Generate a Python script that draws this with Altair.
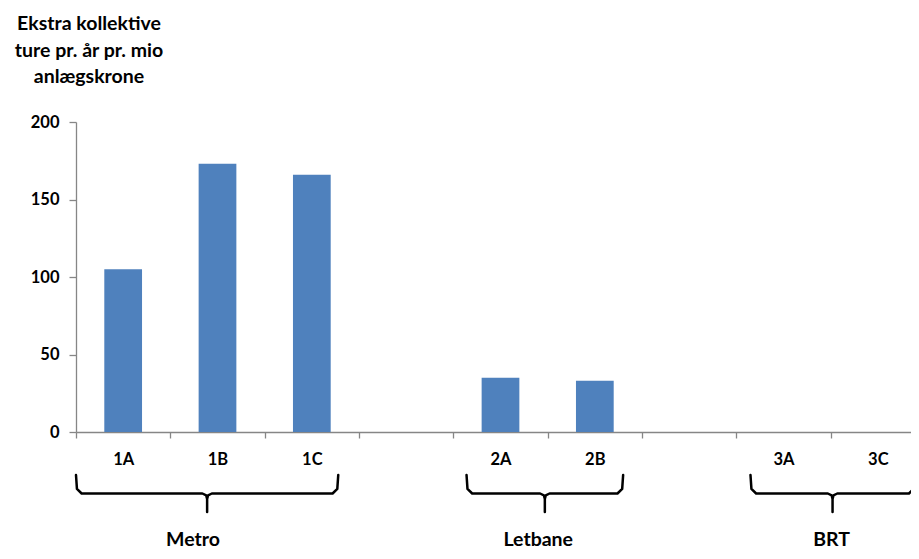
import altair as alt
import pandas as pd

# ---- data ----
categories = ["1A", "1B", "1C", "gap1", "2A", "2B", "gap2", "3A", "3C"]
values = [105, 173, 166, None, 35, 33, None, 0, 0]

title_lines = ["Ekstra kollektive", "ture pr. år pr. mio", "anlægskrone"]

groups = ["Metro", "Letbane", "BRT"]
brace_start = [0.0, 4.14, 7.15]   # in category-band units
brace_end = [2.78, 5.80, 8.89]
label_x = [1.24, 4.90, 8.01]

BLUE = "#4F81BD"
GREY = "#868686"
FONT = "Lato"

bars_df = pd.DataFrame({"cat": categories, "value": values})

# brace polylines built from the brace extents
rows = []
for g, s, e in zip(groups, brace_start, brace_end):
    c = (s + e) / 2
    pts = [(s, 0), (s + 0.01, 0.75), (s + 0.06, 1.0), (c - 0.05, 1.0), (c - 0.01, 1.1),
           (c, 1.3), (c, 2.0), (c, 1.3), (c + 0.01, 1.1), (c + 0.05, 1.0),
           (e - 0.06, 1.0), (e - 0.01, 0.75), (e, 0)]
    for i, (x, d) in enumerate(pts):
        rows.append({"group": g, "order": i, "x": x, "d": d})
brace_df = pd.DataFrame(rows)

label_df = pd.DataFrame({"group": groups, "x": label_x})
title_df = pd.DataFrame({"t": ["\n".join(title_lines)]})

bars = alt.Chart(bars_df).transform_filter("datum.value != null").mark_bar(
    color=BLUE, width=alt.RelativeBandSize(0.4)
).encode(
    x=alt.X("cat:N", sort=categories,
            scale=alt.Scale(domain=categories, paddingInner=0, paddingOuter=0),
            axis=alt.Axis(title=None, labelAngle=0, tickBand="extent", tickSize=6,
                          labelPadding=13,
                          labelExpr="indexof(datum.label,'gap')==0 ? '' : datum.label",
                          labelFont=FONT, labelFontWeight="bold", labelFontSize=16.5,
                          labelColor="black", domainColor=GREY, tickColor=GREY,
                          domainWidth=1.3, tickWidth=1.3, grid=False)),
    y=alt.Y("value:Q", scale=alt.Scale(domain=[0, 200], nice=False),
            axis=alt.Axis(title=None, values=[0, 50, 100, 150, 200], tickSize=7,
                          labelPadding=10, labelFont=FONT, labelFontWeight="bold",
                          labelFontSize=16.5, labelColor="black", domainColor=GREY,
                          tickColor=GREY, domainWidth=1.3, tickWidth=1.3, grid=False)),
)

xq = alt.Scale(domain=[0, 9], nice=False, zero=False)

braces = alt.Chart(brace_df).mark_line(
    color="black", strokeWidth=2.5, strokeJoin="round", strokeCap="round", clip=False
).encode(
    x=alt.X("x:Q", scale=xq, axis=None),
    y=alt.Y("d:Q", scale=alt.Scale(domain=[0, 2], range=[353, 390], nice=False, zero=False),
            axis=None),
    detail="group:N",
    order="order:Q",
)

glabels = alt.Chart(label_df).mark_text(
    font=FONT, fontWeight="bold", fontSize=19.5, color="black", baseline="middle"
).encode(
    x=alt.X("x:Q", scale=xq, axis=None),
    y=alt.value(418),
    text="group:N",
)

title = alt.Chart(title_df).mark_text(
    lineBreak="\n", lineHeight=26.5, font=FONT, fontWeight="bold", fontSize=19.5,
    align="center", baseline="alphabetic", color="black"
).encode(
    x=alt.value(13),
    y=alt.value(-92),
    text="t:N",
)

chart = alt.layer(bars, braces, glabels, title).resolve_scale(
    x="independent", y="independent"
).properties(
    width=849, height=310,
    padding={"left": 68, "top": 114, "right": -14, "bottom": 119},
    autosize=alt.AutoSizeParams(type="none"),
).configure_view(stroke=None)

chart.save("out.html", embed_options={"renderer": "svg", "actions": False})
